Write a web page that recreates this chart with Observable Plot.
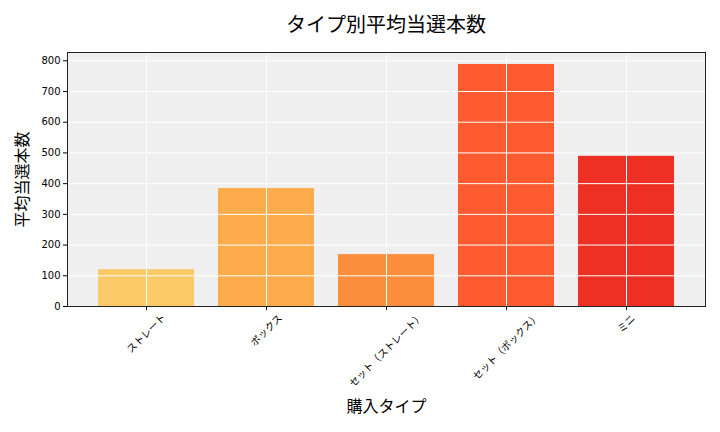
<!DOCTYPE html>
<html><head><meta charset="utf-8">
<script src="https://cdn.jsdelivr.net/npm/d3@7"></script>
<script src="https://cdn.jsdelivr.net/npm/@observablehq/plot@0.6"></script>
<style>
body{margin:0;background:#fff;font-family:"DejaVu Sans","Noto Sans CJK JP",sans-serif;}
#title{height:44px;line-height:48px;text-align:center;padding-left:52px;font-size:20px;font-family:"Noto Sans CJK JP",sans-serif;color:#000;}
</style></head>
<body>
<div id="title">タイプ別平均当選本数</div>
<div id="chart"></div>
<script>
const categories = ["ストレート", "ボックス", "セット（ストレート）", "セット（ボックス）", "ミニ"];
const values = [120, 384, 169, 788, 489];
const colors = ["#fdca6a", "#feab4b", "#fd8e3d", "#fd5a2f", "#ee3024"];
const yTicks = [0, 100, 200, 300, 400, 500, 600, 700, 800];

const data = categories.map((c, i) => ({type: c, value: values[i], color: colors[i]}));

const jpFont = '"Noto Sans CJK JP",sans-serif';
const tickFontSize = 10;
const ctx = document.createElement("canvas").getContext("2d");
ctx.font = `${tickFontSize}px "Noto Sans CJK JP"`;
const s45 = Math.SQRT1_2;

const tickLabelMarks = categories.map(c => {
  const L = ctx.measureText(c).width * 0.92;
  const half = (L + tickFontSize * 0.8) * s45 / 2;
  return Plot.text([c], {x: d => d, text: d => d, frameAnchor: "bottom", dy: 8 + half,
    rotate: -45, textAnchor: "middle", lineAnchor: "middle", fontSize: tickFontSize, fontFamily: jpFont});
});

const chart = Plot.plot({
  width: 720,
  height: 388,
  marginTop: 8,
  marginLeft: 67,
  marginRight: 15,
  marginBottom: 126,
  style: {fontFamily: '"DejaVu Sans","Noto Sans CJK JP",sans-serif', fontSize: "10px", color: "#000", background: "#fff"},
  x: {domain: categories, padding: 0.2, paddingOuter: 0.24},
  y: {domain: [0, 827]},
  marks: [
    Plot.frame({fill: "#efefef"}),
    Plot.barY(data, {x: "type", y: "value", fill: "color"}),
    Plot.gridY(yTicks, {stroke: "#fff", strokeOpacity: 1, strokeWidth: 1}),
    Plot.gridX(categories, {stroke: "#fff", strokeOpacity: 1, strokeWidth: 1}),
    Plot.frame({stroke: "#222", strokeWidth: 1}),
    Plot.axisY(yTicks, {tickSize: 4, tickPadding: 3, label: null, fontSize: 10}),
    Plot.axisX({tickSize: 4, tickFormat: () => "", label: null}),
    ...tickLabelMarks,
    Plot.text(["平均当選本数"], {frameAnchor: "left", dx: -45, rotate: -90, textAnchor: "middle", lineAnchor: "middle", fontSize: 16, fontFamily: jpFont}),
    Plot.text(["購入タイプ"], {frameAnchor: "bottom", dy: 100, lineAnchor: "middle", fontSize: 16, fontFamily: jpFont})
  ]
});
document.getElementById("chart").appendChild(chart);
</script>
</body></html>
